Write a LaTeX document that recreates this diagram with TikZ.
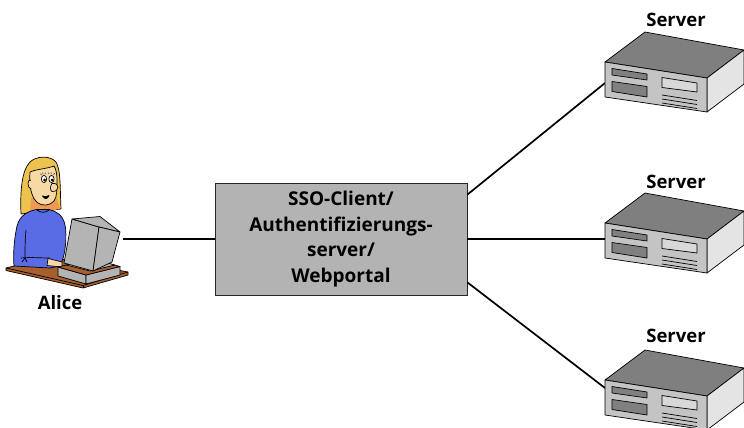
\documentclass[tikz,border=0pt]{standalone}
\usepackage{fontspec}
\setmainfont{Open Sans}
\usetikzlibrary{calc}
\definecolor{boxgray}{HTML}{B3B3B3}
\definecolor{srvtop}{HTML}{7F7F7F}
\definecolor{srvfront}{HTML}{C4C4C4}
\definecolor{srvside}{HTML}{E4E4E4}
\definecolor{srvbay}{HTML}{808080}
\definecolor{srvpanel}{HTML}{D8D8D8}
\definecolor{hair}{HTML}{EEC24E}
\definecolor{hairshade}{HTML}{EE9A50}
\definecolor{skin}{HTML}{F7D9A6}
\definecolor{sweater}{HTML}{5A6BE6}
\definecolor{desk}{HTML}{A5602E}
\definecolor{pcgray}{HTML}{B4B4B4}
\tikzset{
  wire/.style={line width=1.7pt, black},
  outline/.style={draw=black, line width=0.7pt, line join=round},
  label/.style={font=\bfseries\fontsize{18.5}{20}\selectfont, inner sep=0pt},
  ssobox/.style={draw=black!85, line width=0.8pt, fill=boxgray,
    minimum width=252pt, minimum height=112pt, inner sep=0pt, align=center,
    font=\bfseries\fontsize{19}{25.5}\selectfont},
  server/.pic={
    % top face
    \fill[srvtop] (605,62) -- (645,32) -- (744,50) -- (707,78) -- cycle;
    \draw[outline] (605,62) -- (645,32) -- (744,50) -- (707,78) -- cycle;
    % right face
    \fill[srvside] (707,78) -- (744,50) -- (744,84) -- (707,112) -- cycle;
    \draw[outline] (707,78) -- (744,50) -- (744,84) -- (707,112) -- cycle;
    % front face
    \fill[srvfront] (605,62) -- (707,78) -- (707,112) -- (605,97) -- cycle;
    \draw[outline] (605,62) -- (707,78) -- (707,112) -- (605,97) -- cycle;
    % drive bays
    \draw[outline, fill=srvbay] (612,68.5) -- (647,74) -- (647,80) -- (612,75) -- cycle;
    \draw[outline, fill=srvbay] (612,81.5) -- (647,86.5) -- (647,97) -- (612,91.5) -- cycle;
    % panel and vents
    \draw[outline, fill=srvpanel] (662,77.5) -- (697,83) -- (697,92) -- (662,87.5) -- cycle;
    \foreach \v in {95,99,103}
      \draw[black, line width=0.7pt] (662,\v) -- (697,\v+5.5);
  }
}
\begin{document}
\begin{tikzpicture}[x=1pt,y=-1pt]
\useasboundingbox (0,0) rectangle (744,428);

% central box
\node[ssobox] (sso) at (341,239) {SSO-Client/\\Authentifizierungs-\\server/\\Webportal};

% connection points
\coordinate (pc) at (123,239);
\coordinate (s1) at (605,83);
\coordinate (s2) at (605,239);
\coordinate (s3) at (605,388);

% connectors
\draw[wire] (pc) -- (sso.west);
\draw[wire] ($(sso.north east)+(0,12)$) -- (s1);
\draw[wire] (sso.east) -- (s2);
\draw[wire] ($(sso.south east)+(0,-13)$) -- (s3);

% servers
\pic at (0,0) {server};
\pic at (0,161) {server};
\pic at (0,318) {server};
\node[label] (l1) at (676,20) {Server};
\node[label] (l2) at (676,182) {Server};
\node[label] (l3) at (676,336) {Server};

% Alice: desk
\fill[desk] (6,268) -- (50,257) -- (128,272) -- (128,275) -- (83,288) -- (6,270.5) -- cycle;
\draw[outline] (6,268) -- (50,257) -- (128,272) -- (128,275) -- (83,288) -- (6,270.5) -- cycle;
\draw[outline] (6,268) -- (83,285.5) -- (128,272);
\draw[outline] (83,285.5) -- (83,288);

% hair (back)
\draw[outline, fill=hair] (21,214) .. controls (20,190) and (22,170) .. (30,162)
  .. controls (36,156) and (50,155) .. (56,162)
  .. controls (61,170) and (60,190) .. (61,209) -- cycle;
% shaded hair below the face
\fill[hairshade] (31,198) -- (56,196) -- (60,209) -- (30,214) -- cycle;
% face
\draw[outline, fill=skin] (30,172) .. controls (29,185) and (31,198) .. (38,203)
  .. controls (42,206) and (50,206) .. (54,201)
  .. controls (57,197) and (57,190) .. (57,180)
  .. controls (57,174) and (56,169) .. (54,166)
  .. controls (46,169) and (37,169) .. (30,172) -- cycle;
% ear
\draw[outline, fill=skin] (31,180) .. controls (27,179) and (27,188) .. (31,189);
% eyes
\draw[outline, fill=white] (44,179) ellipse (2.6 and 3.6);
\draw[outline, fill=white] (51.5,179) ellipse (2.6 and 3.6);
\fill[black] (44.6,180) circle (1.5);
\fill[black] (52.1,180) circle (1.5);
\draw[black, line width=0.5pt] (41.5,175) -- (40.5,173.8) (43,174.2) -- (42.6,172.6) (45,174.2) -- (45.4,172.6)
  (49,174.2) -- (48.6,172.6) (51,174) -- (51.2,172.4) (53.5,174.5) -- (54.6,173.2);
% nose
\draw[outline, fill=skin] (52,183.5) .. controls (60,182) and (60,192) .. (52,191.5)
  .. controls (50,190.5) and (50,186) .. (52,183.5);
% mouth
\draw[outline, fill=black] (42.5,196) .. controls (44.5,199.5) and (47.5,199.5) .. (49,195.5)
  .. controls (47,197) and (44.5,197) .. (42.5,196) -- cycle;

% sweater
\draw[outline, fill=sweater] (37,209.5) .. controls (28,211) and (20,215) .. (17,226)
  .. controls (14,240) and (13,255) .. (14,266)
  -- (50,268) -- (60,266)
  .. controls (66,255) and (67,235) .. (65,225)
  .. controls (63,215) and (56,211) .. (49,209.5) -- cycle;
\draw[black, line width=0.8pt] (37,210) .. controls (40,213) and (46,213) .. (49,210);
% arm folds and sleeve
\draw[black, line width=0.7pt] (26,230) .. controls (25,240) and (25,250) .. (25,257);
\draw[black, line width=0.7pt] (21,258) .. controls (30,257) and (40,258) .. (50,258);
\draw[black, line width=0.7pt] (22,262) -- (25,258) -- (27,262);
% hand
\draw[outline, fill=skin] (48,258.5) -- (62,262) -- (62,267) -- (47,265.5) -- cycle;

% monitor base
\draw[outline, fill=pcgray] (58,267) -- (86,275) -- (86,284) -- (58,276) -- cycle;
\draw[outline, fill=pcgray] (86,275) -- (120,266.5) -- (120,275) -- (86,284) -- cycle;
\draw[outline, fill=desk] (58,267) -- (92,259) -- (120,266.5) -- (86,275) -- cycle;
\draw[outline, fill=pcgray] (66,265) -- (92,259) -- (115,265) -- (90,271) -- cycle;

% monitor
\draw[outline, fill=pcgray] (72,219) -- (99,227) -- (93,271) -- (64,263) -- cycle;
\draw[outline, fill=pcgray] (72,219) -- (100,216.5) -- (120,232) -- (99,227) -- cycle;
\draw[outline, fill=pcgray] (99,227) -- (120,232) -- (112,262) -- (93,271) -- cycle;

\node[label] (alice) at (60,303) {Alice};
\end{tikzpicture}
\end{document}
